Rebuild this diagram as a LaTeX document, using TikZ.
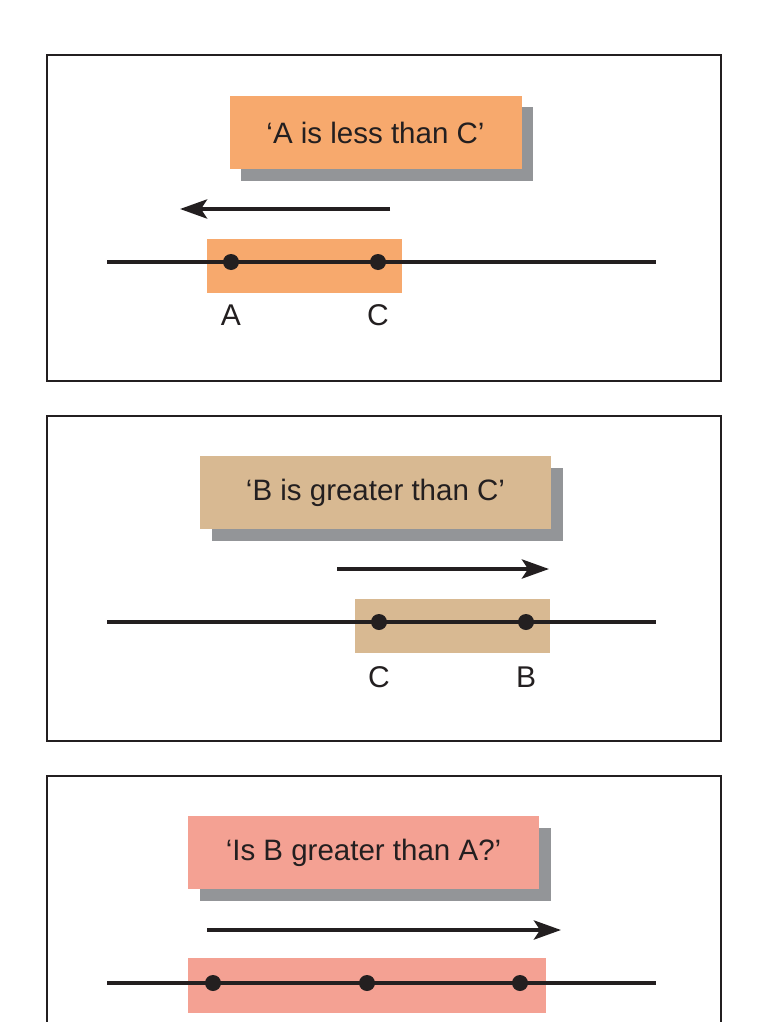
\documentclass[tikz,border=0pt]{standalone}
\usepackage{fontspec}
\setmainfont{Liberation Sans}
\usetikzlibrary{arrows.meta}
\definecolor{ink}{RGB}{35,31,32}
\definecolor{boxorange}{RGB}{247,169,109}
\definecolor{boxtan}{RGB}{216,185,146}
\definecolor{boxpink}{RGB}{244,161,147}
\definecolor{shadowgray}{RGB}{147,149,152}
\newcommand{\quotetext}[1]{{\fontsize{29.5}{33}\selectfont #1}}
\newcommand{\pointtext}[1]{{\fontsize{30}{33}\selectfont #1}}
\tikzset{
  panel/.style={draw=ink, line width=2pt},
  numline/.style={draw=ink, line width=4.6pt},
  ptdot/.style={circle, fill=ink, inner sep=0pt, minimum size=16pt},
  dirarrow/.style={draw=ink, line width=4.3pt, -{Stealth[length=27pt,width=19pt,inset=6pt]}},
  quotebox/.style={inner sep=0pt, minimum width=#1, minimum height=73pt, text=ink},
  shadowbox/.style={fill=shadowgray, inner sep=0pt, minimum width=#1, minimum height=73pt},
  hlbox/.style={inner sep=0pt},
  ptlabel/.style={text=ink, inner sep=0pt}
}
\begin{document}
\begin{tikzpicture}[x=1pt,y=-1pt]
\useasboundingbox (0,0) rectangle (764,1022);
% ---------- panel 1 ----------
\draw[panel] (47,55) rectangle (721,381);
\node[shadowbox=292pt] (sh1) at (387,144) {};
\node[quotebox=292pt, fill=boxorange] (q1) at (375.5,132.5) {\quotetext{‘A is less than C’}};
\coordinate (a1s) at (390,209);
\coordinate (a1e) at (180,209);
\draw[dirarrow] (a1s) -- (a1e);
\node[hlbox, fill=boxorange, minimum width=195pt, minimum height=54pt] (h1) at (304.2,266) {};
\coordinate (l1a) at (107,262);
\coordinate (l1b) at (656,262);
\draw[numline] (l1a) -- (l1b);
\node[ptdot] (p1a) at (231,262) {};
\node[ptdot] (p1c) at (378,262) {};
\node[ptlabel] (t1a) at (231,315) {\pointtext{A}};
\node[ptlabel] (t1c) at (378,315) {\pointtext{C}};
% ---------- panel 2 ----------
\draw[panel] (47,416) rectangle (721,741);
\node[shadowbox=351pt] (sh2) at (387,504) {};
\node[quotebox=351pt, fill=boxtan] (q2) at (375.5,492.5) {\quotetext{‘B is greater than C’}};
\coordinate (a2s) at (337,569);
\coordinate (a2e) at (549,569);
\draw[dirarrow] (a2s) -- (a2e);
\node[hlbox, fill=boxtan, minimum width=195pt, minimum height=54pt] (h2) at (452.5,626) {};
\coordinate (l2a) at (107,622);
\coordinate (l2b) at (656,622);
\draw[numline] (l2a) -- (l2b);
\node[ptdot] (p2c) at (379,622) {};
\node[ptdot] (p2b) at (526,622) {};
\node[ptlabel] (t2c) at (379,677) {\pointtext{C}};
\node[ptlabel] (t2b) at (526,677) {\pointtext{B}};
% ---------- panel 3 ----------
\draw[panel] (47,1030) -- (47,776) -- (721,776) -- (721,1030);
\node[shadowbox=351pt] (sh3) at (375.5,864.5) {};
\node[quotebox=351pt, fill=boxpink] (q3) at (363.5,852.5) {\quotetext{‘Is B greater than A?’}};
\coordinate (a3s) at (207,930);
\coordinate (a3e) at (561,930);
\draw[dirarrow] (a3s) -- (a3e);
\node[hlbox, fill=boxpink, minimum width=358pt, minimum height=55pt] (h3) at (367,985.5) {};
\coordinate (l3a) at (107,983);
\coordinate (l3b) at (656,983);
\draw[numline] (l3a) -- (l3b);
\node[ptdot] (p3a) at (213,983) {};
\node[ptdot] (p3c) at (367,983) {};
\node[ptdot] (p3b) at (520,983) {};
\end{tikzpicture}
\end{document}
